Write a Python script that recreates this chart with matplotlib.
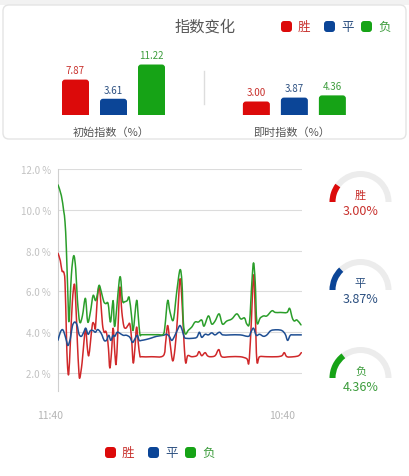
import matplotlib
matplotlib.use('Agg')
import matplotlib.pyplot as plt
from matplotlib.patches import FancyBboxPatch, Wedge, PathPatch, Rectangle
from matplotlib.path import Path
import matplotlib.transforms as mtrans
import numpy as np

plt.rcParams['font.family'] = ['Noto Sans CJK SC', 'DejaVu Sans']

# ---------------- data ----------------
outcomes = ['胜', '平', '负']
initial_vals = [7.87, 3.61, 11.22]
current_vals = [3.00, 3.87, 4.36]
group_labels = ['初始指数（%）', '即时指数（%）']
title = '指数变化'

# time index (sample units) and values for each series
t_win = [0, 7, 12, 17, 21, 25, 28, 32, 37, 43, 49, 53, 58, 62, 65, 72, 78, 83, 88, 92, 97, 103,
         108, 112, 117, 123, 128, 133, 138, 143, 147, 151, 155, 160, 165, 170, 174, 179, 185,
         191, 197, 203, 210, 215, 220, 225, 230, 235, 240, 245, 250, 280, 315, 322, 328, 335,
         343, 350, 357, 365, 371, 377, 382, 388, 400, 415, 422, 430, 440, 447, 455, 470, 481,
         490, 515, 545, 565, 571, 577, 585, 590, 595, 603, 625, 655, 670, 677, 685, 705, 720, 728]
v_win = [7.87, 7.5, 7.0, 6.95, 6.45, 4.0, 2.5, 1.95, 3.5, 5.5, 6.36, 5.5, 3.5, 2.2, 1.75, 2.5,
         3.6, 4.15, 3.2, 2.85, 3.5, 4.4, 4.4, 4.2, 5.5, 6.25, 5.5, 4.4, 4.0, 4.05, 3.8, 3.2, 2.25,
         3.0, 4.2, 3.0, 2.45, 4.0, 6.2, 5.0, 4.3, 4.2, 4.35, 4.4, 3.7, 2.5, 3.2, 4.25, 3.5, 2.85,
         2.8, 2.8, 2.85, 3.5, 4.33, 3.5, 2.6, 3.2, 4.6, 6.6, 5.5, 3.5, 2.5, 2.85, 2.8, 2.85, 3.05,
         2.85, 3.0, 2.85, 2.8, 2.85, 3.15, 2.8, 2.8, 2.8, 2.7, 2.5, 4.0, 6.8, 5.0, 2.6, 2.8, 2.8,
         2.8, 2.85, 3.0, 2.8, 2.8, 2.85, 3.0]

t_draw = [0, 7, 13, 18, 25, 30, 37, 43, 50, 57, 63, 70, 77, 83, 90, 97, 105, 112, 118, 125, 132,
          138, 145, 152, 158, 165, 170, 177, 185, 195, 205, 215, 223, 230, 237, 243, 250, 265,
          280, 295, 315, 325, 333, 340, 347, 357, 365, 372, 378, 385, 400, 415, 423, 430, 440,
          450, 460, 470, 483, 493, 515, 545, 570, 577, 585, 593, 603, 615, 625, 637, 655, 670,
          680, 687, 695, 705, 728]
v_draw = [3.61, 4.0, 4.13, 4.0, 3.6, 3.35, 3.7, 4.3, 4.5, 4.35, 3.9, 3.8, 4.0, 4.2, 3.9, 4.08,
          4.08, 4.0, 4.13, 4.05, 3.85, 3.6, 3.6, 3.85, 3.6, 3.85, 3.8, 4.0, 3.95, 3.85, 3.85, 3.75,
          3.5, 3.67, 3.85, 3.6, 3.6, 3.65, 3.72, 3.8, 3.85, 3.9, 3.8, 3.6, 3.75, 4.1, 4.33, 4.08,
          3.75, 3.7, 3.7, 3.75, 4.0, 3.75, 3.9, 3.87, 3.97, 3.87, 4.0, 3.87, 3.87, 3.87, 3.8, 4.0,
          4.2, 3.85, 3.9, 3.8, 3.87, 4.08, 4.12, 4.08, 3.9, 3.6, 3.85, 3.87, 3.87]

t_loss = [0, 10, 17, 21, 25, 30, 33, 40, 47, 53, 58, 65, 73, 82, 89, 97, 105, 112, 117, 123, 130,
          137, 143, 150, 157, 165, 170, 185, 193, 200, 207, 213, 220, 225, 235, 240, 245, 250,
          265, 280, 300, 315, 320, 328, 335, 345, 355, 365, 371, 375, 381, 390, 400, 410, 420,
          430, 437, 450, 460, 470, 482, 492, 505, 520, 535, 547, 558, 565, 573, 580, 585, 590,
          595, 605, 615, 625, 640, 650, 665, 685, 693, 701, 707, 715, 727]
v_loss = [11.22, 10.7, 9.95, 9.4, 8.1, 5.6, 4.55, 6.8, 7.75, 7.1, 5.6, 4.5, 4.8, 5.66, 4.5, 5.0,
          5.8, 5.55, 5.8, 6.3, 5.95, 5.5, 5.4, 5.4, 4.5, 5.55, 4.3, 6.7, 5.55, 5.5, 5.55, 5.7, 4.8,
          4.1, 5.55, 4.8, 3.9, 3.88, 3.88, 3.88, 3.88, 3.9, 4.3, 5.55, 5.0, 4.6, 5.95, 7.06, 6.4,
          4.5, 3.92, 4.1, 4.25, 4.5, 4.5, 4.6, 4.3, 4.8, 4.4, 4.55, 4.9, 4.4, 4.55, 4.65, 4.9,
          4.65, 4.7, 4.4, 4.5, 6.45, 7.4, 6.45, 4.5, 4.7, 4.8, 4.8, 5.05, 4.97, 4.97, 4.97, 5.17,
          4.7, 4.55, 4.6, 4.36]

x_tick_pos = [0, 671]
x_tick_labels = ['11:40', '10:40']
y_ticks = [2, 4, 6, 8, 10, 12]
gauge_max = 15.0

# ---------------- style ----------------
BAR_C = ['#dc0a0a', '#0b4597', '#16a316']
TXT_C = ['#c8302c', '#2b4f80', '#3c9c3c']
LINE_C = ['#d0282a', '#1f4f93', '#2b9e2b']

W, H = 409, 477
fig = plt.figure(figsize=(W / 100, H / 100), dpi=100)
fig.patch.set_facecolor('white')


def px_axes(l, t, r, b, z=1):
    ax = fig.add_axes([l / W, 1 - b / H, (r - l) / W, (b - t) / H])
    ax.set_zorder(z)
    ax.patch.set_alpha(0)
    return ax


bg = px_axes(0, 0, W, H, z=0)
bg.set_xlim(0, W)
bg.set_ylim(H, 0)
bg.axis('off')

# top strip and card
bg.add_patch(Rectangle((0, 0), W, 6, facecolor='#f2f2f2', edgecolor='none'))
bg.add_patch(FancyBboxPatch((3, 6), 403, 134, boxstyle='round,pad=0,rounding_size=6',
                            facecolor='white', edgecolor='#e4e4e4', linewidth=1.0))
bg.plot([204, 204], [72, 105], color='#dddddd', lw=1)

bg.text(205, 27, title, ha='center', va='center', fontsize=11, color='#555555')

# top legend
top_leg_sq = [281, 324, 361]
top_leg_tx = [298, 341, 378]
for i, o in enumerate(outcomes):
    bg.add_patch(FancyBboxPatch((top_leg_sq[i], 22), 11, 11, boxstyle='round,pad=0,rounding_size=3',
                                facecolor=BAR_C[i], edgecolor='none'))
    bg.text(top_leg_tx[i], 27.5, o, ha='left', va='center', fontsize=9, color=TXT_C[i])

# bottom legend
bot_leg_sq = [105, 148, 185]
bot_leg_tx = [122, 165, 202]
for i, o in enumerate(outcomes):
    bg.add_patch(FancyBboxPatch((bot_leg_sq[i], 448), 11, 11, boxstyle='round,pad=0,rounding_size=3',
                                facecolor=BAR_C[i], edgecolor='none'))
    bg.text(bot_leg_tx[i], 453.5, o, ha='left', va='center', fontsize=9, color=TXT_C[i])

# group labels
bg.text(111, 133, group_labels[0], ha='center', va='center', fontsize=8, color='#555555')
bg.text(292, 133, group_labels[1], ha='center', va='center', fontsize=8, color='#555555')

# ---------------- bars ----------------
bax = px_axes(40, 40, 370, 116)
px_per_unit_x = 38.0
px_per_unit_y = 4.5
bax.set_xlim((40 - 75.5) / px_per_unit_x, (370 - 75.5) / px_per_unit_x)
bax.set_ylim(0, (116 - 40) / px_per_unit_y)
bax.axis('off')
bw = 27 / px_per_unit_x
groups = [([0, 1, 2], initial_vals), ([4.76, 5.76, 6.76], current_vals)]
for xs, vals in groups:
    for i, (x, v) in enumerate(zip(xs, vals)):
        bax.add_patch(FancyBboxPatch((x - bw / 2, -2), bw, v + 2,
                                     boxstyle='round,pad=0,rounding_size=0.08',
                                     mutation_aspect=px_per_unit_x / px_per_unit_y,
                                     facecolor=BAR_C[i], edgecolor='none'))
        bax.annotate(f'{v:.2f}', (x, v), xytext=(0, 3), textcoords='offset points',
                     ha='center', va='bottom', fontsize=7, color=TXT_C[i],
                     annotation_clip=False)

# ---------------- line chart ----------------
lax = px_axes(58, 170, 302, 392)
lax.set_xlim(0, 730)
lax.set_ylim(1.12, 12)


def smooth_path(xs, ys):
    pts = np.column_stack([xs, ys]).astype(float)
    n = len(pts)
    verts = [pts[0]]
    codes = [Path.MOVETO]
    for i in range(n - 1):
        p0 = pts[i - 1] if i > 0 else pts[i]
        p1 = pts[i]
        p2 = pts[i + 1]
        p3 = pts[i + 2] if i + 2 < n else pts[i + 1]
        c1 = p1 + (p2 - p0) / 6.0
        c2 = p2 - (p3 - p1) / 6.0
        verts += [c1, c2, p2]
        codes += [Path.CURVE4] * 3
    return Path(verts, codes)


for (ts, vs), c in zip([(t_win, v_win), (t_draw, v_draw), (t_loss, v_loss)], LINE_C):
    lax.add_patch(PathPatch(smooth_path(ts, vs), facecolor='none', edgecolor=c, lw=1.1,
                            zorder=3, joinstyle='round', capstyle='round'))

lax.set_yticks(y_ticks)
lax.set_yticklabels([f'{v:.1f} %' for v in y_ticks])
lax.set_xticks(x_tick_pos)
lax.set_xticklabels(x_tick_labels)
lax.grid(axis='y', color='#dcdcdc', lw=0.8)
lax.set_axisbelow(True)
for s in ['top', 'right', 'bottom']:
    lax.spines[s].set_visible(False)
lax.spines['left'].set_color('#cfcfcf')
lax.spines['left'].set_linewidth(0.8)
lax.tick_params(axis='y', length=0, pad=5, labelsize=7, labelcolor='#c2c2c2')
lax.tick_params(axis='x', length=0, pad=14, labelsize=7.5, labelcolor='#b5b5b5')
first = lax.get_xticklabels()[0]
first.set_transform(first.get_transform() + mtrans.ScaledTranslation(-8 / 100, 0, fig.dpi_scale_trans))

# ---------------- gauges ----------------
g_cx = 360.5
g_cy = [203, 291, 379]
R, GW = 31, 6
for i, (o, v) in enumerate(zip(outcomes, current_vals)):
    cy = g_cy[i]
    bg.add_patch(Wedge((g_cx, cy), R, 180, 360, width=GW, facecolor='#ececec', edgecolor='none'))
    span = v / gauge_max * 180
    bg.add_patch(Wedge((g_cx, cy), R, 180, 180 + span, width=GW, facecolor=BAR_C[i], edgecolor='none'))
    bg.text(g_cx, cy - 7, o, ha='center', va='center', fontsize=8, color=TXT_C[i])
    bg.text(g_cx, cy + 8.5, f'{v:.2f}%', ha='center', va='center', fontsize=9, color=TXT_C[i])

fig.savefig('out.png', dpi=100)
